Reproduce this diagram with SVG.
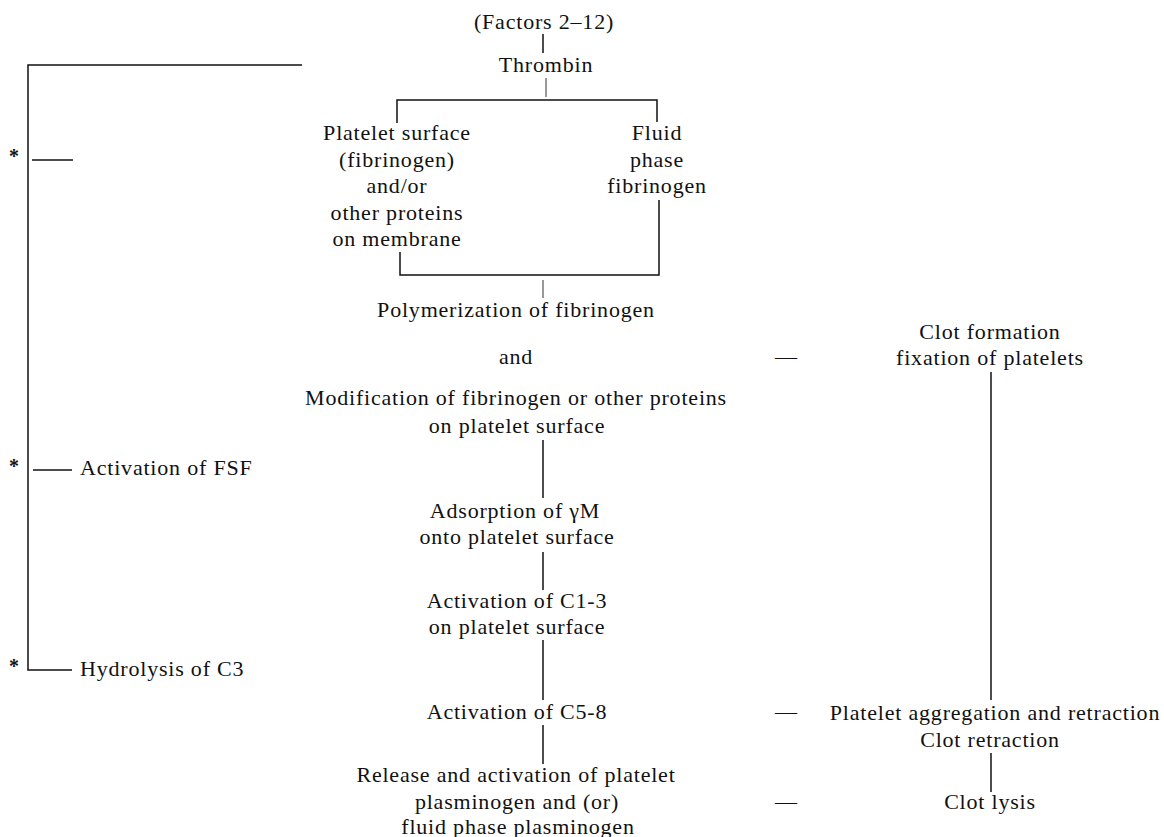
<svg xmlns="http://www.w3.org/2000/svg" width="1164" height="837" viewBox="0 0 1164 837">
<style>
text{font-family:"Liberation Serif","Times New Roman",serif;font-size:22px;fill:#111;letter-spacing:0.8px}
.c{text-anchor:middle}
.s{text-anchor:start}
.ast{font-size:20px;font-weight:bold;text-anchor:middle;letter-spacing:0}
.dash{text-anchor:middle;letter-spacing:0}
line,polyline{stroke:#111;stroke-width:1.5;fill:none}
.thin{stroke-width:1;stroke:#333}
</style>
<rect width="1164" height="837" fill="#fff"/>
<g id="connectors">
<line x1="543" y1="34" x2="543" y2="53"/>
<line class="thin" x1="546" y1="78" x2="546" y2="97"/>
<polyline points="397,123 397,100 657,100 657,122"/>
<polyline points="400,252 400,275 659,275 659,200"/>
<line class="thin" x1="543" y1="280" x2="543" y2="298"/>
<line x1="543" y1="440" x2="543" y2="498"/>
<line x1="543" y1="552" x2="543" y2="590"/>
<line x1="543" y1="640" x2="543" y2="700"/>
<line x1="543" y1="725" x2="543" y2="764"/>
<line x1="991" y1="372" x2="991" y2="700"/>
<line x1="991" y1="753" x2="991" y2="792"/>
<polyline points="302,65 28,65 28,670 72,670"/>
<line x1="32" y1="160" x2="73" y2="160"/>
<line x1="33" y1="470" x2="72" y2="470"/>
</g>
<g id="factors"><text class="c" x="544" y="29">(Factors 2–12)</text></g>
<g id="thrombin"><text class="c" x="546" y="72">Thrombin</text></g>
<g id="platelet-surface">
<text class="c" x="397" y="140">Platelet surface</text>
<text class="c" x="397" y="167">(fibrinogen)</text>
<text class="c" x="397" y="193">and/or</text>
<text class="c" x="397" y="220">other proteins</text>
<text class="c" x="397" y="246">on membrane</text>
</g>
<g id="fluid-phase">
<text class="c" x="657" y="140">Fluid</text>
<text class="c" x="657" y="167">phase</text>
<text class="c" x="657" y="193">fibrinogen</text>
</g>
<g id="polymerization"><text class="c" x="516" y="317">Polymerization of fibrinogen</text></g>
<g id="and"><text class="c" x="516" y="364">and</text></g>
<g id="modification">
<text class="c" x="516" y="405">Modification of fibrinogen or other proteins</text>
<text class="c" x="517" y="433">on platelet surface</text>
</g>
<g id="adsorption">
<text class="c" x="515" y="518">Adsorption of γM</text>
<text class="c" x="517" y="544">onto platelet surface</text>
</g>
<g id="c13">
<text class="c" x="517" y="608">Activation of C1-3</text>
<text class="c" x="517" y="634">on platelet surface</text>
</g>
<g id="c58"><text class="c" x="517" y="719">Activation of C5-8</text></g>
<g id="release">
<text class="c" x="516" y="782">Release and activation of platelet</text>
<text class="c" x="517" y="809">plasminogen and (or)</text>
<text class="c" x="518" y="834">fluid phase plasminogen</text>
</g>
<g id="clot-formation">
<text class="dash" x="786" y="364">—</text>
<text class="c" x="990" y="339">Clot formation</text>
<text class="c" x="990" y="365">fixation of platelets</text>
</g>
<g id="aggregation">
<text class="dash" x="786" y="719">—</text>
<text class="c" x="995" y="720">Platelet aggregation and retraction</text>
<text class="c" x="990" y="747">Clot retraction</text>
</g>
<g id="clot-lysis">
<text class="dash" x="786" y="809">—</text>
<text class="c" x="990" y="809">Clot lysis</text>
</g>
<g id="star1"><text class="ast" x="14" y="163">*</text></g>
<g id="fsf">
<text class="ast" x="14" y="473">*</text>
<text class="s" x="80" y="475">Activation of FSF</text>
</g>
<g id="hydrolysis">
<text class="ast" x="14" y="673">*</text>
<text class="s" x="80" y="676">Hydrolysis of C3</text>
</g>
</svg>
